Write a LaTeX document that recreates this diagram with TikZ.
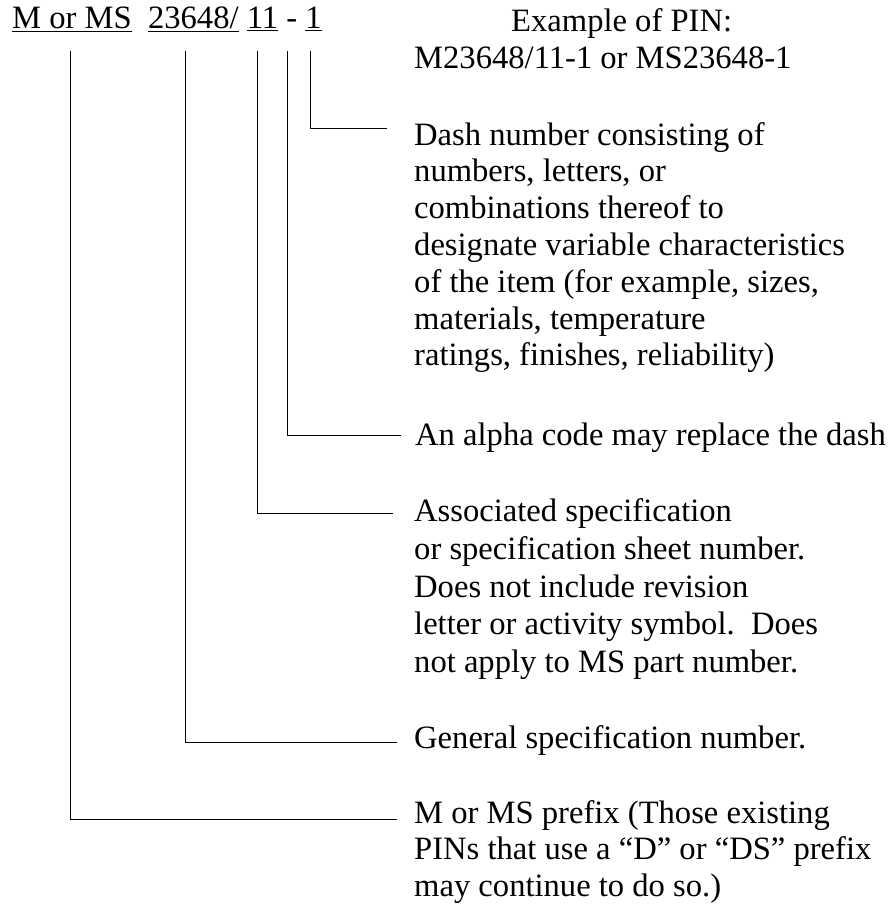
\documentclass[tikz,border=0pt]{standalone}
\usepackage{fontspec}
\setmainfont{Liberation Serif}
\begin{document}
\begin{tikzpicture}[x=1pt,y=-1pt,
  txt/.style={anchor=base west, inner sep=0pt, align=left, font=\fontsize{32.6}{36.8}\selectfont},
  lead/.style={line width=1pt, draw=black}]
\useasboundingbox (0,0) rectangle (894,907);
\fill[white] (0,0) rectangle (894,907);

% part number with underlined fields (base anchor = last line's baseline)
\node[txt] (pin) at (12,29) {\underline{M or MS}\ \ \underline{23648/} \underline{11} - \underline{1}};
\node[txt, font=\fontsize{32.6}{36}\selectfont] (example) at (414,68) {\hspace*{97pt}Example of PIN:\\M23648/11-1 or MS23648-1};

% descriptions
\node[txt] (dashno) at (414,365.8) {Dash number consisting of\\numbers, letters, or\\combinations thereof to\\designate variable characteristics\\of the item (for example, sizes,\\materials, temperature\\ratings, finishes, reliability)};
\node[txt] (alpha) at (415,445) {An alpha code may replace the dash};
\node[txt, font=\fontsize{32.6}{37.7}\selectfont] (assoc) at (414,672.5) {Associated specification\\or specification sheet number.\\Does not include revision\\letter or activity symbol.\ \ Does\\not apply to MS part number.};
\node[txt] (general) at (414,748) {General specification number.};
\node[txt, font=\fontsize{32.6}{36.5}\selectfont] (prefix) at (414,896) {M or MS prefix (Those existing\\PINs that use a ``D'' or ``DS'' prefix\\may continue to do so.)};

% leader start and end points
\coordinate (sDash) at (310,51);
\coordinate (sAlpha) at (287,51);
\coordinate (sSheet) at (257,51);
\coordinate (sGen) at (185,51);
\coordinate (sPre) at (70,51);
\coordinate (eDash) at (387,128);
\coordinate (eAlpha) at (401,435);
\coordinate (eSheet) at (393,513);
\coordinate (eGen) at (397,742);
\coordinate (ePre) at (397,819);

\draw[lead] (sDash) |- (eDash);
\draw[lead] (sAlpha) |- (eAlpha);
\draw[lead] (sSheet) |- (eSheet);
\draw[lead] (sGen) |- (eGen);
\draw[lead] (sPre) |- (ePre);
\end{tikzpicture}
\end{document}
